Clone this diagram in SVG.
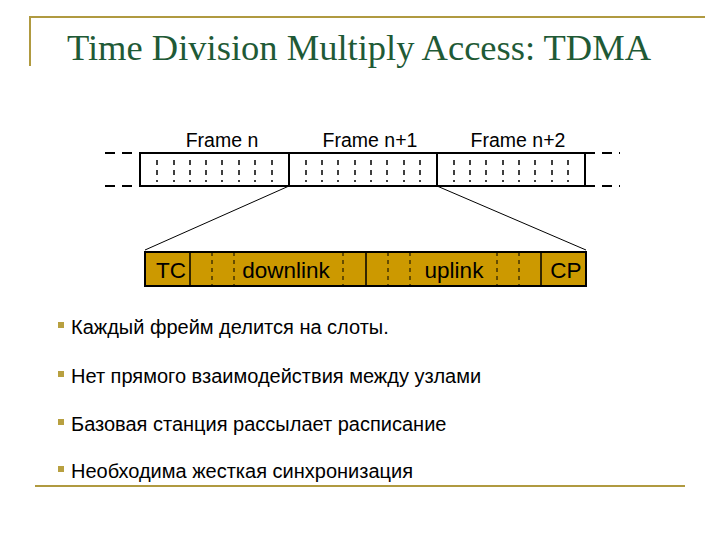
<svg xmlns="http://www.w3.org/2000/svg" width="720" height="540" viewBox="0 0 720 540">
<style>
.t{font-family:"Liberation Sans",Arial,sans-serif;fill:#000}
.fr{fill:#fff;stroke:#000;stroke-width:2}
.tk{stroke:#000;stroke-width:1.5;stroke-dasharray:5,5}
.ext{stroke:#000;stroke-width:2;stroke-dasharray:10,7}
.sl{fill:#cc9900;stroke:#000;stroke-width:2}
.dv{stroke:#000;stroke-width:1.5}
.dd{stroke:#000;stroke-width:1;stroke-dasharray:4,4}
.b{fill:#b8a040}
</style>
<rect width="720" height="540" fill="#fff"/>
<g id="deco" stroke="#b09a40" stroke-width="2" fill="none">
<path d="M30,66 V17 H705"/>
<line x1="35" y1="486" x2="685" y2="486"/>
</g>
<text x="359" y="60" text-anchor="middle" font-family="'Liberation Serif','Times New Roman',serif" font-size="36.5" fill="#1f5a36">Time Division Multiply Access: TDMA</text>
<g id="frames">
<line class="ext" x1="105" y1="153" x2="140" y2="153"/><line class="ext" x1="105" y1="186" x2="140" y2="186"/>
<line class="ext" x1="585" y1="153" x2="620" y2="153"/><line class="ext" x1="585" y1="186" x2="620" y2="186"/>
<rect class="fr" x="140" y="153" width="149" height="33"/>
<rect class="fr" x="289" y="153" width="148" height="33"/>
<rect class="fr" x="437" y="153" width="148" height="33"/>
<g class="tk">
<line x1="157" y1="160" x2="157" y2="182"/><line x1="174" y1="160" x2="174" y2="182"/><line x1="190" y1="160" x2="190" y2="182"/><line x1="206" y1="160" x2="206" y2="182"/><line x1="222" y1="160" x2="222" y2="182"/><line x1="239" y1="160" x2="239" y2="182"/><line x1="255" y1="160" x2="255" y2="182"/><line x1="272" y1="160" x2="272" y2="182"/>
<line x1="306" y1="160" x2="306" y2="182"/><line x1="322" y1="160" x2="322" y2="182"/><line x1="338" y1="160" x2="338" y2="182"/><line x1="355" y1="160" x2="355" y2="182"/><line x1="371" y1="160" x2="371" y2="182"/><line x1="387" y1="160" x2="387" y2="182"/><line x1="404" y1="160" x2="404" y2="182"/><line x1="420" y1="160" x2="420" y2="182"/>
<line x1="454" y1="160" x2="454" y2="182"/><line x1="470" y1="160" x2="470" y2="182"/><line x1="486" y1="160" x2="486" y2="182"/><line x1="503" y1="160" x2="503" y2="182"/><line x1="519" y1="160" x2="519" y2="182"/><line x1="535" y1="160" x2="535" y2="182"/><line x1="552" y1="160" x2="552" y2="182"/><line x1="568" y1="160" x2="568" y2="182"/>
</g>
<text class="t" x="222" y="147" font-size="19.5" text-anchor="middle">Frame n</text>
<text class="t" x="370" y="147" font-size="19.5" text-anchor="middle">Frame n+1</text>
<text class="t" x="518" y="147" font-size="19.5" text-anchor="middle">Frame n+2</text>
</g>
<g id="connectors" stroke="#000" stroke-width="1">
<line x1="289" y1="186" x2="145" y2="250"/>
<line x1="437" y1="186" x2="586" y2="250"/>
</g>
<g id="slots">
<rect class="sl" x="145" y="252" width="441" height="34"/>
<line class="dv" x1="190" y1="252" x2="190" y2="286"/>
<line class="dv" x1="366" y1="252" x2="366" y2="286"/>
<line class="dv" x1="541" y1="252" x2="541" y2="286"/>
<g class="dd">
<line x1="212" y1="252" x2="212" y2="286"/><line x1="234" y1="252" x2="234" y2="286"/><line x1="343" y1="252" x2="343" y2="286"/><line x1="388" y1="252" x2="388" y2="286"/><line x1="410" y1="252" x2="410" y2="286"/><line x1="497" y1="252" x2="497" y2="286"/><line x1="519" y1="252" x2="519" y2="286"/>
</g>
<text class="t" x="171" y="278" font-size="22.5" text-anchor="middle">TC</text>
<text class="t" x="286" y="278" font-size="22.5" text-anchor="middle">downlink</text>
<text class="t" x="454" y="278" font-size="22.5" text-anchor="middle">uplink</text>
<text class="t" x="566" y="278" font-size="22.5" text-anchor="middle">CP</text>
</g>
<g id="bullets">
<rect class="b" x="58" y="322" width="6" height="6"/>
<text class="t" x="71" y="334" font-size="20">Каждый фрейм делится на слоты.</text>
<rect class="b" x="58" y="371" width="6" height="6"/>
<text class="t" x="71" y="383" font-size="20">Нет прямого взаимодействия между узлами</text>
<rect class="b" x="58" y="419" width="6" height="6"/>
<text class="t" x="71" y="431" font-size="20">Базовая станция рассылает расписание</text>
<rect class="b" x="58" y="466" width="6" height="6"/>
<text class="t" x="71" y="478" font-size="20">Необходима жесткая синхронизация</text>
</g>
</svg>
